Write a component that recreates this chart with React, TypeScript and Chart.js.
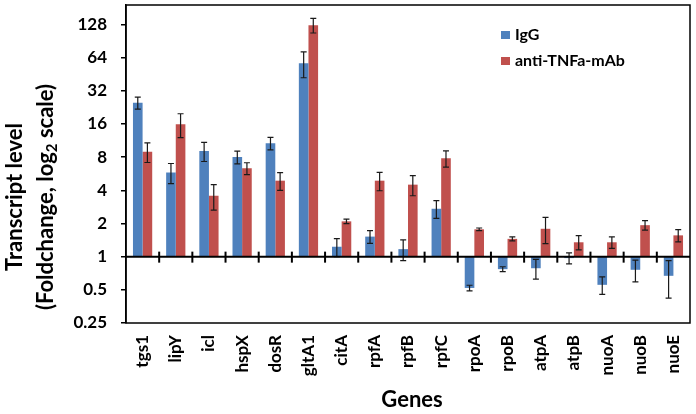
import React, { useEffect, useRef } from "react";
import { Chart, registerables } from "chart.js";

Chart.register(...registerables);

const genes = ["tgs1", "lipY", "icl", "hspX", "dosR", "gltA1", "citA", "rpfA", "rpfB", "rpfC", "rpoA", "rpoB", "atpA", "atpB", "nuoA", "nuoB", "nuoE"];
const igG = [24.9, 5.8, 9.1, 8.0, 10.7, 57, 1.23, 1.52, 1.17, 2.72, 0.52, 0.77, 0.785, 0.97, 0.555, 0.76, 0.67];
const igGErr = [3.1, 1.2, 1.8, 1.06, 1.4, 15, 0.23, 0.2, 0.25, 0.5, 0.03, 0.04, 0.16, 0.11, 0.1, 0.17, 0.25];
const tnf = [8.95, 15.9, 3.57, 6.33, 4.89, 126, 2.09, 4.89, 4.5, 7.8, 1.77, 1.45, 1.79, 1.35, 1.35, 1.93, 1.56];
const tnfErr = [1.8, 3.9, 0.93, 0.78, 0.9, 19, 0.1, 0.93, 0.93, 1.3, 0.05, 0.06, 0.48, 0.2, 0.16, 0.19, 0.2];
const yTicks = [0.25, 0.5, 1, 2, 4, 8, 16, 32, 64, 128];
const seriesNames = ["IgG", "anti-TNFa-mAb"];
const colors = ["#4F81BD", "#C0504D"];

const FONT = "Lato, 'Open Sans', sans-serif";

const decorPlugin = {
  id: "decor",
  afterDatasetsDraw(chart: any) {
    const { ctx, chartArea, scales } = chart;
    const y = scales.y;
    const errs = [igGErr, tnfErr];
    const vals = [igG, tnf];
    ctx.save();
    // error bars
    ctx.strokeStyle = "#1a1a1a";
    ctx.lineWidth = 1.2;
    [0, 1].forEach((di) => {
      const meta = chart.getDatasetMeta(di);
      meta.data.forEach((el: any, i: number) => {
        const v = vals[di][i];
        const e = errs[di][i];
        const x = el.x;
        const yt = y.getPixelForValue(v + e);
        const yb = y.getPixelForValue(Math.max(v - e, 0.26));
        ctx.beginPath();
        ctx.moveTo(x, yt);
        ctx.lineTo(x, yb);
        ctx.moveTo(x - 3, yt);
        ctx.lineTo(x + 3, yt);
        ctx.moveTo(x - 3, yb);
        ctx.lineTo(x + 3, yb);
        ctx.stroke();
      });
    });
    // axis at 1
    const y1 = y.getPixelForValue(1);
    ctx.strokeStyle = "#000";
    ctx.lineWidth = 2;
    ctx.beginPath();
    ctx.moveTo(chartArea.left, y1);
    ctx.lineTo(chartArea.right, y1);
    ctx.stroke();
    const n = genes.length;
    const cw = (chartArea.right - chartArea.left) / n;
    ctx.lineWidth = 2;
    for (let i = 1; i < n; i++) {
      const x = chartArea.left + i * cw;
      ctx.beginPath();
      ctx.moveTo(x, y1 - 5);
      ctx.lineTo(x, y1 + 6);
      ctx.stroke();
    }
    // border
    ctx.lineWidth = 1.5;
    ctx.strokeRect(chartArea.left, chartArea.top, chartArea.right - chartArea.left, chartArea.bottom - chartArea.top);
    // legend
    ctx.font = `bold 16px ${FONT}`;
    ctx.textBaseline = "middle";
    ctx.textAlign = "left";
    ctx.fillStyle = colors[0];
    ctx.fillRect(501, 31, 9, 8);
    ctx.fillStyle = colors[1];
    ctx.fillRect(501, 57, 9, 8);
    ctx.fillStyle = "#000";
    ctx.fillText(seriesNames[0], 515, 35);
    ctx.fillText(seriesNames[1], 515, 61);
    // x title
    ctx.font = `bold 22px ${FONT}`;
    ctx.textAlign = "center";
    ctx.fillText("Genes", 412, 400);
    // y title
    ctx.translate(15, 197);
    ctx.rotate(-Math.PI / 2);
    ctx.font = `bold 22px ${FONT}`;
    ctx.textAlign = "center";
    ctx.fillText("Transcript level", 0, 0);
    const a = "(Foldchange, log";
    const s = "2";
    const b = " scale)";
    const wa = ctx.measureText(a).width;
    const wb = ctx.measureText(b).width;
    ctx.font = `bold 15px ${FONT}`;
    const ws = ctx.measureText(s).width;
    const total = wa + ws + wb;
    const x0 = -total / 2;
    const ly = 31;
    ctx.textAlign = "left";
    ctx.font = `bold 22px ${FONT}`;
    ctx.fillText(a, x0, ly);
    ctx.font = `bold 15px ${FONT}`;
    ctx.fillText(s, x0 + wa, ly + 6);
    ctx.font = `bold 22px ${FONT}`;
    ctx.fillText(b, x0 + wa + ws, ly);
    ctx.restore();
  },
};

export default function App() {
  const ref = useRef<HTMLCanvasElement>(null);
  useEffect(() => {
    document.body.style.margin = "0";
    const chart = new Chart(ref.current as HTMLCanvasElement, {
      type: "bar",
      data: {
        labels: genes,
        datasets: [
          { label: seriesNames[0], data: igG.map((v) => [1, v]) as any, backgroundColor: colors[0], borderWidth: 0, categoryPercentage: 0.58, barPercentage: 1 },
          { label: seriesNames[1], data: tnf.map((v) => [1, v]) as any, backgroundColor: colors[1], borderWidth: 0, categoryPercentage: 0.58, barPercentage: 1 },
        ],
      },
      options: {
        responsive: false,
        animation: false,
        layout: { padding: { left: 0, right: 6, top: 5, bottom: 0 } },
        plugins: { legend: { display: false }, tooltip: { enabled: false } },
        scales: {
          x: {
            type: "category",
            grid: { display: false, drawTicks: false },
            border: { display: false },
            ticks: {
              color: "#000",
              font: { family: FONT, size: 17, weight: "bold" },
              minRotation: 90,
              maxRotation: 90,
              autoSkip: false,
              padding: 12,
            },
            afterFit: (s: any) => {
              s.height = 91;
              s.paddingLeft = 0;
              s.paddingRight = 0;
              s.paddingTop = 0;
              s.paddingBottom = 0;
            },
          },
          y: {
            type: "logarithmic",
            min: 0.25,
            max: 192,
            grid: { drawOnChartArea: false, drawTicks: true, tickLength: 5, color: "#000", lineWidth: 1.5 },
            border: { display: true, color: "#000", width: 1.5 },
            ticks: {
              color: "#000",
              font: { family: FONT, size: 17, weight: "bold" },
              padding: 14,
              callback: (v: any) => String(v),
            },
            afterBuildTicks: (s: any) => {
              s.ticks = yTicks.map((v) => ({ value: v }));
            },
            afterFit: (s: any) => {
              s.width = 126;
              s.paddingLeft = 0;
              s.paddingRight = 0;
              s.paddingTop = 0;
              s.paddingBottom = 0;
            },
          },
        },
      },
      plugins: [decorPlugin],
    });
    return () => chart.destroy();
  }, []);
  return (
    <div style={{ position: "absolute", left: 0, top: 0, width: 696, height: 414, background: "#fff" }}>
      <canvas ref={ref} width={696} height={414} />
    </div>
  );
}
